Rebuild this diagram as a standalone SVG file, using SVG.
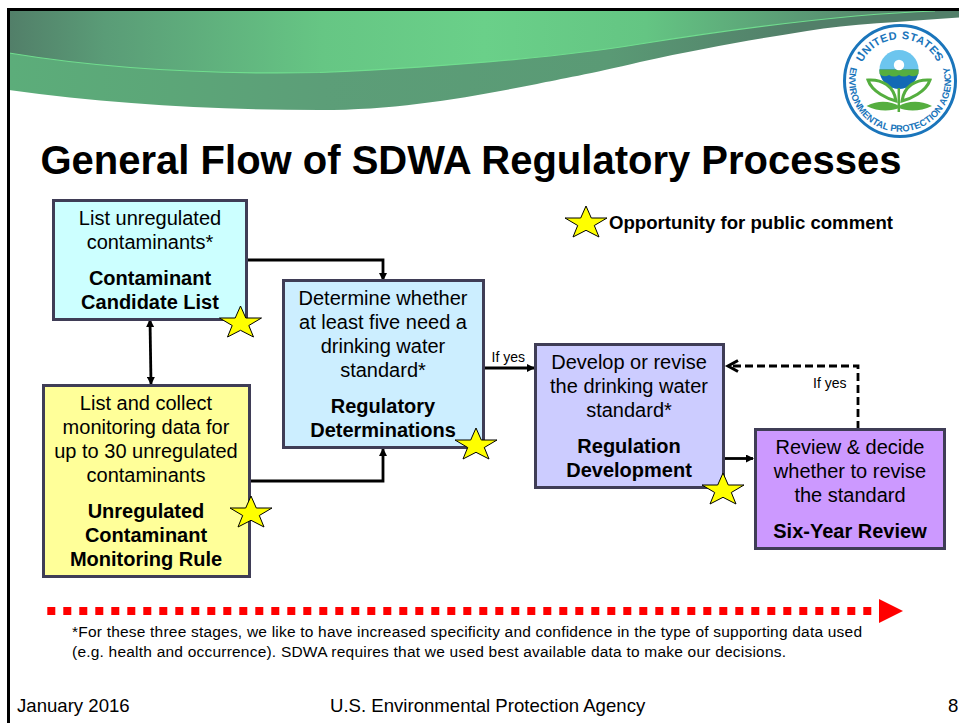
<svg xmlns="http://www.w3.org/2000/svg" width="959" height="723" viewBox="0 0 959 723">
<style>
text{font-family:"Liberation Sans",Arial,sans-serif;fill:#000}
.b{font-size:20px;text-anchor:middle}
.h{font-size:20px;font-weight:bold;text-anchor:middle}
.box{stroke:#3f3d56;stroke-width:3}
.c{fill:none;stroke:#000;stroke-width:2.8}
.s{font-size:14px}
.f{font-size:18.600px}
.n{font-size:15.500px}
.lg{font-weight:bold;fill:#1a75bb}
</style>
<defs>
<linearGradient id="g1" gradientUnits="userSpaceOnUse" x1="10" x2="959" y1="0" y2="0"><stop offset="0" stop-color="#527f69"/><stop offset=".1" stop-color="#5a9c77"/><stop offset=".33" stop-color="#66c684"/><stop offset=".5" stop-color="#6ad089"/><stop offset=".67" stop-color="#64c583"/><stop offset=".83" stop-color="#5a9a75"/><stop offset=".96" stop-color="#557e68"/><stop offset="1" stop-color="#557e68"/></linearGradient>
<linearGradient id="g2" gradientUnits="userSpaceOnUse" x1="10" x2="959" y1="0" y2="0"><stop offset="0" stop-color="#5cad7a"/><stop offset=".17" stop-color="#5ca678"/><stop offset=".33" stop-color="#5c9e78"/><stop offset=".63" stop-color="#5a9a75"/><stop offset=".83" stop-color="#527f69"/><stop offset="1" stop-color="#527f69"/></linearGradient>
<polygon id="star" points="0,0 5.300,12 21,12 8.300,19.500 13,31 0,24.300 -13,31 -8.300,19.500 -21,12 -5.300,12" fill="#ff0" stroke="#000" stroke-width="1"/>
<marker id="ah" viewBox="0 0 8 8" refX="7" refY="4" markerWidth="8" markerHeight="8" markerUnits="userSpaceOnUse" orient="auto-start-reverse"><path d="M0,0 L8,4 L0,8 Z" fill="#000"/></marker>
<path id="arcT" d="M858,81 A42,42 0 0 1 942,81"/>
<path id="arcB" d="M851.500,65 A51,51 0 1 0 948.500,65"/>
</defs>
<rect width="959" height="723" fill="#fff"/>
<g id="banner">
<path d="M9,11 H959 V17.500 C900,22 850,24 807,31 C750,40 700,49 640,62 C590,74 560,79 537,84 C470,97 400,110 320,110 C215,110 110,104 9,90 Z" fill="url(#g2)"/>
<path d="M9,11 H935 C850,14 747,27 640,44 C580,54 470,66 320,72.500 C240,74 130,73 9,53 Z" fill="url(#g1)"/>
<path d="M9,53 C130,73 240,74 320,72.500 C470,66 580,54 640,44 C747,27 850,14 935,11" fill="none" stroke="#70dd8e" stroke-width="1.200"/>
</g>
<path d="M8.500,723 V9.500 H959" fill="none" stroke="#000" stroke-width="3"/>
<g id="logo">
<circle cx="900" cy="81" r="55.500" fill="#fff" stroke="#1a75bb" stroke-width="3"/>
<circle cx="899" cy="69.500" r="19.500" fill="#6cc5ee"/>
<path d="M879.500,69.500 A19.500,19.500 0 0 0 918.500,69.500 Z" fill="#1269b5"/>
<path d="M879.500,69.500 H918.500 V74 Q914,78 909,75 Q904,78 899,75 Q894,78 889,75 Q884,78 879.500,74 Z" fill="#55ae3f"/>
<circle cx="899" cy="65" r="5.200" fill="#fff"/>
<path d="M898.800,112 V88" stroke="#55ae3f" stroke-width="2.500"/>
<path d="M896,101 C888,99 872,92 868,80 C882,79 894,86 896,101 Z M902,101 C910,99 926,92 930,80 C916,79 904,86 902,101 Z" fill="#fff" stroke="#55ae3f" stroke-width="3"/>
<path d="M866.500,106 C880,99 892,102 899,106 C906,102 918,99 932,106 C920,112 906,111 899,108 C892,111 878,112 866.500,106 Z" fill="#55ae3f"/>
<circle cx="859" cy="53" r="1.500" fill="#1a75bb"/>
<circle cx="938" cy="53" r="1.500" fill="#1a75bb"/>
<text class="lg" font-size="11" letter-spacing=".6"><textPath href="#arcT" startOffset="50%" text-anchor="middle">UNITED STATES</textPath></text>
<text class="lg" font-size="9.400"><textPath href="#arcB" startOffset="50%" text-anchor="middle">ENVIRONMENTAL PROTECTION AGENCY</textPath></text>
</g>
<text id="title" x="471" y="174" text-anchor="middle" font-size="40" font-weight="bold">General Flow of SDWA Regulatory Processes</text>
<g id="connectors">
<path class="c" d="M247,260 H383 V280" marker-end="url(#ah)"/>
<path class="c" d="M150,320 L151,384" marker-start="url(#ah)" marker-end="url(#ah)"/>
<path class="c" d="M250,481 H383 V449" marker-end="url(#ah)"/>
<path class="c" d="M485,368 H534" marker-end="url(#ah)"/>
<path class="c" d="M724,458.500 H753" marker-end="url(#ah)"/>
<path class="c" d="M858,429 V366 H730" stroke-dasharray="8 4" stroke-width="3"/>
<path d="M738,360.500 L728,366 L738,371.500" fill="none" stroke="#000" stroke-width="3"/>
</g>
<g id="ccl">
<rect class="box" x="53.500" y="200.500" width="193" height="119" fill="#cff"/>
<text class="b" x="150" y="225">List unregulated</text>
<text class="b" x="150" y="249">contaminants*</text>
<text class="h" x="150" y="285">Contaminant</text>
<text class="h" x="150" y="309">Candidate List</text>
</g>
<g id="ucmr">
<rect class="box" x="43.500" y="385.500" width="206" height="191" fill="#ff9"/>
<text class="b" x="146" y="410">List and collect</text>
<text class="b" x="146" y="434">monitoring data for</text>
<text class="b" x="146" y="458">up to 30 unregulated</text>
<text class="b" x="146" y="482">contaminants</text>
<text class="h" x="146" y="518">Unregulated</text>
<text class="h" x="146" y="542">Contaminant</text>
<text class="h" x="146" y="566">Monitoring Rule</text>
</g>
<g id="rd">
<rect class="box" x="283.500" y="280.500" width="200" height="167" fill="#cef"/>
<text class="b" x="383" y="305">Determine whether</text>
<text class="b" x="383" y="329">at least five need a</text>
<text class="b" x="383" y="353">drinking water</text>
<text class="b" x="383" y="377">standard*</text>
<text class="h" x="383" y="413">Regulatory</text>
<text class="h" x="383" y="437">Determinations</text>
</g>
<g id="regdev">
<rect class="box" x="535.500" y="344.500" width="188" height="143" fill="#ccf"/>
<text class="b" x="629" y="369">Develop or revise</text>
<text class="b" x="629" y="393">the drinking water</text>
<text class="b" x="629" y="417">standard*</text>
<text class="h" x="629" y="453">Regulation</text>
<text class="h" x="629" y="477">Development</text>
</g>
<g id="sixyear">
<rect class="box" x="755.500" y="429.500" width="189" height="119" fill="#c9f"/>
<text class="b" x="850" y="454">Review &amp; decide</text>
<text class="b" x="850" y="478">whether to revise</text>
<text class="b" x="850" y="502">the standard</text>
<text class="h" x="850" y="538">Six-Year Review</text>
</g>
<g id="stars">
<use href="#star" x="240.500" y="306"/>
<use href="#star" x="251" y="496"/>
<use href="#star" x="476" y="428"/>
<use href="#star" x="723" y="473"/>
<use href="#star" x="586" y="206"/>
</g>
<text class="s" x="491.500" y="361.500">If yes</text>
<text class="s" x="813" y="388">If yes</text>
<text x="609" y="229" font-size="18.600" font-weight="bold">Opportunity for public comment</text>
<g id="timeline">
<path d="M47.300,611 H872" fill="none" stroke="#f00" stroke-width="8" stroke-dasharray="8 8"/>
<polygon points="879,599 903,611 879,623" fill="#f00"/>
</g>
<text class="n" x="72" y="637" textLength="790" lengthAdjust="spacing">*For these three stages, we like to have increased specificity and confidence in the type of supporting data used</text>
<text class="n" x="72" y="656.500" textLength="714" lengthAdjust="spacing">(e.g. health and occurrence). SDWA requires that we used best available data to make our decisions.</text>
<text class="f" x="17" y="712">January 2016</text>
<text class="f" x="330" y="712">U.S. Environmental Protection Agency</text>
<text class="f" x="948" y="712">8</text>
</svg>
